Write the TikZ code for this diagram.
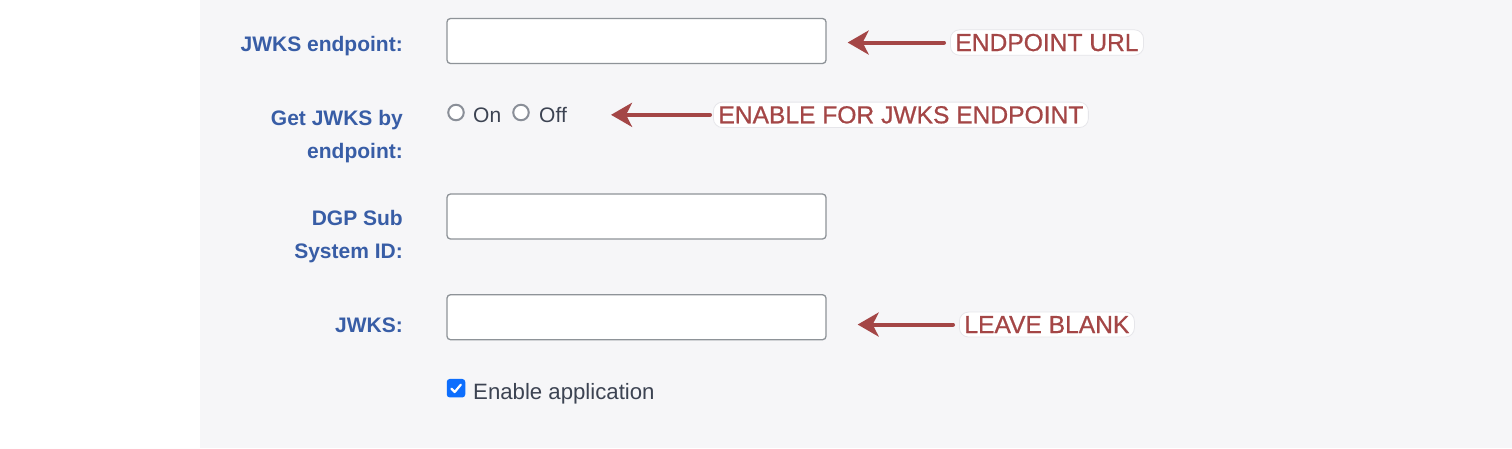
\documentclass[tikz,border=0pt]{standalone}
\usepackage{fontspec}
\setmainfont{Liberation Sans}
\newfontfamily\annfont[FakeBold=0.7]{Liberation Sans}
\usetikzlibrary{arrows.meta}
\definecolor{pagebg}{HTML}{F6F6F8}
\definecolor{lblblue}{HTML}{385DA6}
\definecolor{txtgray}{HTML}{3C4352}
\definecolor{fieldborder}{HTML}{8E9398}
\definecolor{annred}{HTML}{A44646}
\definecolor{chkblue}{HTML}{0D6EFD}
\definecolor{radioborder}{HTML}{8A8F98}
\definecolor{glowedge}{HTML}{E6E6EA}
\tikzset{
  lbl/.style={inner sep=0pt, anchor=base east, text=lblblue, font=\fontsize{21}{24}\selectfont\bfseries},
  plain/.style={inner sep=0pt, anchor=base west, text=txtgray, font=\fontsize{21}{25}\selectfont},
  field/.style={draw=fieldborder, fill=white, line width=1.3pt, rounded corners=3.5pt, minimum width=379pt, minimum height=45pt, inner sep=0pt},
  radio/.style={circle, draw=radioborder, fill=white, line width=2pt, minimum size=15.5pt, inner sep=0pt},
  chk/.style={fill=chkblue, rounded corners=3pt, minimum size=18.5pt, inner sep=0pt},
  ann/.style={inner xsep=5pt, inner ysep=4pt, anchor=base west, text=annred, fill=white, draw=glowedge, line width=0.8pt, rounded corners=9pt, font=\annfont\fontsize{24.6}{28}\selectfont},
  arr/.style={draw=annred, line width=4pt, line cap=round, -{Stealth[length=21pt,width=24pt,inset=6pt]}},
}
\begin{document}
\begin{tikzpicture}[x=1pt,y=-1pt]
\useasboundingbox (0,0) rectangle (1512,448);
\fill[white] (0,0) rectangle (200,448);
\fill[pagebg] (200,0) rectangle (1512,448);

% labels
\node[lbl] (l1) at (403,51) {JWKS endpoint:};
\node[lbl] (l2a) at (403,125) {Get JWKS by};
\node[lbl] (l2b) at (403,158) {endpoint:};
\node[lbl] (l3a) at (403,225) {DGP Sub};
\node[lbl] (l3b) at (403,258) {System ID:};
\node[lbl] (l4) at (403,332) {JWKS:};

% fields
\node[field] (f1) at (636.5,41) {};
\node[field] (f3) at (636.5,216.5) {};
\node[field] (f4) at (636.5,317.2) {};

% radios
\node[radio] (r1) at (456,112.5) {};
\node[plain] (on) at (473,122.7) {On};
\node[radio] (r2) at (521,112.5) {};
\node[plain] (off) at (539,122.7) {Off};

% checkbox
\node[chk] (cb) at (456,388.2) {};
\draw[white, line width=2.2pt, line cap=round, line join=round]
  ([shift={(-4.5,0.5)}]cb.center) -- ([shift={(-1.3,3.8)}]cb.center) -- ([shift={(4.8,-3.5)}]cb.center);
\node[plain, font=\fontsize{22.2}{26}\selectfont] (ea) at (473,399) {Enable application};

% annotations
\node[ann] (a1) at (950,51) {ENDPOINT URL};
\node[ann] (a2) at (713,123.3) {ENABLE FOR JWKS ENDPOINT};
\node[ann] (a3) at (959,333) {LEAVE BLANK};

\draw[arr, shorten <=6pt, shorten >=21pt] (a1.west) -- (a1.west -| f1.east);
\draw[arr, shorten <=3pt, shorten >=44pt] (a2.west) -- (a2.west -| off.east);
\draw[arr, shorten <=6pt, shorten >=31pt] (a3.west) -- (a3.west -| f4.east);
\end{tikzpicture}
\end{document}
